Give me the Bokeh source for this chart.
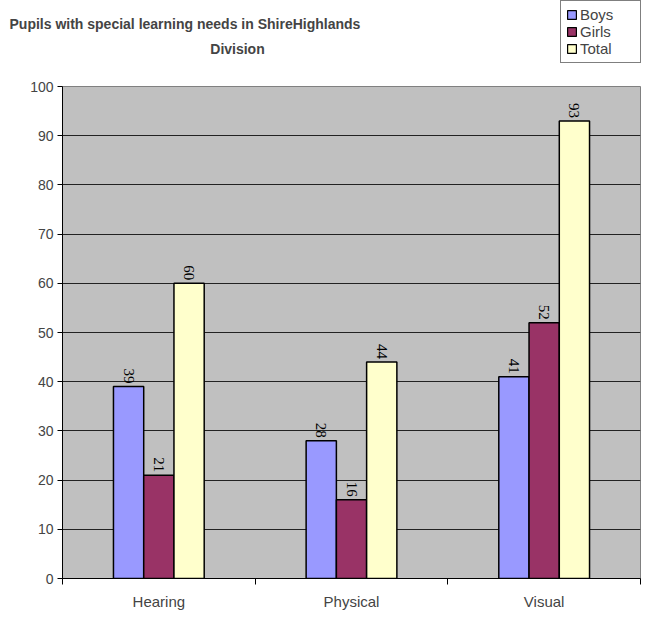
import numpy as np
from bokeh.plotting import figure
from bokeh.models import (ColumnDataSource, FixedTicker, Label, Legend, LegendItem,
                          LabelSet, Range1d)
from bokeh.embed import file_html
from bokeh.resources import INLINE

categories = ["Hearing", "Physical", "Visual"]
series = ["Boys", "Girls", "Total"]
boys = [39, 28, 41]
girls = [21, 16, 52]
total = [60, 44, 93]
colors = ["#9999FF", "#993366", "#FFFFCC"]
y_ticks = list(range(0, 101, 10))
title_line1 = "Pupils with special learning needs in ShireHighlands"
title_line2 = "Division"

FONT = "Liberation Sans"
W = 645
TOP_H = 70
BOT_H = 559
LEFT = 62
RIGHT = 5

bar_w = 0.157
offsets = [-bar_w, 0.0, bar_w]
centers = np.arange(len(categories)) + 0.5
sources = [ColumnDataSource(dict(x=centers + off, top=vals, lab=[str(v) for v in vals]))
           for vals, off in zip([boys, girls, total], offsets)]

# ---------- header: title + legend ----------
hdr = figure(width=W, height=TOP_H, output_backend="svg", toolbar_location=None,
             x_range=Range1d(0, W), y_range=Range1d(0, TOP_H),
             x_axis_location=None, y_axis_location=None,
             min_border_left=0, min_border_right=0, min_border_top=0, min_border_bottom=0)
hdr.outline_line_color = None
hdr.xgrid.visible = False
hdr.ygrid.visible = False
hdr.background_fill_color = "white"
hdr.border_fill_color = "white"

hdr.add_layout(Label(x=9, y=TOP_H - 23, text=title_line1,
                     text_font=FONT, text_font_style="bold", text_font_size="14px",
                     text_align="left", text_baseline="middle"))
hdr.add_layout(Label(x=237, y=TOP_H - 48, text=title_line2,
                     text_font=FONT, text_font_style="bold", text_font_size="14px",
                     text_align="center", text_baseline="middle"))

items = []
for name, col, src in zip(series, colors, sources):
    r = hdr.vbar(x="x", top="top", width=bar_w, source=src,
                 fill_color=col, line_color="black", line_width=1.2, visible=False)
    items.append(LegendItem(label=name, renderers=[r]))
legend = Legend(items=items, location=(560, TOP_H - 63), orientation="vertical",
                label_text_font=FONT, label_text_font_size="15px",
                label_height=15, label_width=55, glyph_height=11, glyph_width=11,
                label_standoff=3, spacing=-2, padding=5, margin=0,
                border_line_color="black", border_line_width=1,
                background_fill_color="white", background_fill_alpha=1,
                inactive_fill_alpha=0.0)
hdr.add_layout(legend)

# ---------- main chart ----------
p = figure(width=W, height=BOT_H, output_backend="svg", toolbar_location=None,
           x_range=Range1d(0, len(categories)), y_range=Range1d(0, 100),
           min_border_left=LEFT, min_border_top=16, min_border_right=RIGHT,
           min_border_bottom=BOT_H - (578 - TOP_H))
p.background_fill_color = "#C0C0C0"
p.border_fill_color = "white"
p.outline_line_color = "#808080"

for col, src in zip(colors, sources):
    p.vbar(x="x", top="top", bottom=0, width=bar_w, source=src,
           fill_color=col, line_color="black", line_width=1.5)
    p.add_layout(LabelSet(x="x", y="top", text="lab", source=src, angle=-np.pi / 2,
                          text_align="right", text_baseline="middle", y_offset=3,
                          text_font=FONT, text_font_size="15px", text_color="black"))

p.xaxis.ticker = FixedTicker(ticks=list(centers), minor_ticks=list(range(len(categories) + 1)))
p.xaxis.major_label_overrides = {float(c): n for c, n in zip(centers, categories)}
p.xaxis.major_tick_line_color = None
p.xaxis.minor_tick_line_color = "black"
p.xaxis.minor_tick_in = 0
p.xaxis.minor_tick_out = 6
p.xaxis.axis_line_color = "black"
p.xaxis.major_label_text_font = FONT
p.xaxis.major_label_text_font_size = "15px"
p.xaxis.major_label_standoff = 8

p.yaxis.ticker = FixedTicker(ticks=y_ticks)
p.yaxis.minor_tick_line_color = None
p.yaxis.major_tick_in = 0
p.yaxis.major_tick_out = 5
p.yaxis.axis_line_color = "black"
p.yaxis.major_label_text_font = FONT
p.yaxis.major_label_text_font_size = "14px"
p.yaxis.major_label_standoff = 4

p.xgrid.grid_line_color = None
p.ygrid.grid_line_color = "#222222"
p.ygrid.grid_line_width = 1

open("out.html", "w").write(file_html([hdr, p], INLINE))
